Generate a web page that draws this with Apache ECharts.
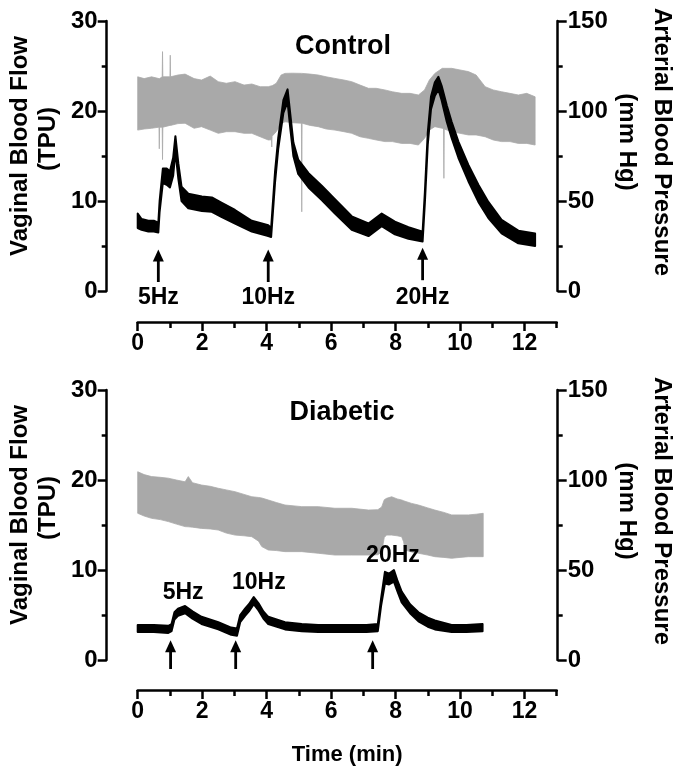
<!DOCTYPE html>
<html><head><meta charset="utf-8">
<script src="https://cdn.jsdelivr.net/npm/echarts@6/dist/echarts.min.js"></script>
<style>html,body{margin:0;padding:0;background:#fff}#c{width:685px;height:777px}</style>
</head><body><div id="c"></div>
<script>
// ---------------- DATA ----------------
const panelTitles = ['Control', 'Diabetic'];
const leftAxisTitle = ['Vaginal Blood Flow', '(TPU)'];
const rightAxisTitle = ['Arterial Blood Pressure', '(mm Hg)'];
const xAxisTitle = 'Time (min)';
const stimLabels = ['5Hz', '10Hz', '20Hz'];

// Control: arterial blood pressure band (mm Hg), upper / lower envelope
const ctrlBpTime = [0.00,0.20,0.43,0.66,0.67,0.68,0.76,0.77,0.78,1.00,1.01,1.02,1.25,1.47,1.75,1.98,2.25,2.50,2.75,3.02,3.30,3.54,3.80,4.05,4.15,4.16,4.17,4.30,4.45,4.57,4.80,5.08,5.09,5.10,5.35,5.60,5.85,6.12,6.40,6.64,6.90,7.16,7.40,7.67,7.90,8.19,8.45,8.71,8.90,9.05,9.22,9.45,9.49,9.50,9.51,9.74,10.00,10.26,10.50,10.78,11.03,11.29,11.55,11.81,12.07,12.33];
const ctrlBpHigh = [119,118,119,118,118,118,119,133,119,119,131,119,120,120.5,118,117.2,119.4,116.3,115.4,116.3,114.4,115,113.5,113.5,114,114,114,115.4,120,120.9,121,120.9,120.9,120.9,120.5,120,119,118.1,117.2,116.3,114.4,112.6,112.6,111.7,110.7,109.8,109.8,108.9,111.7,117.2,120.9,123.7,123.7,123.7,123.7,123.7,122.8,121.9,120,113.5,111.7,110.7,109.8,108.9,109.8,107.9];
const ctrlBpLow  = [89.4,90,90.4,91,79,91,91,73,91,92,92,92,93,93.2,90.4,91.3,89.4,87.6,88.5,88.5,87.6,87.6,85.7,83.9,84,80,86,88.5,93,94,93.5,93.2,44,93.2,92,91.3,90,89.4,88.5,87.6,85.7,84.8,83.9,83,83,82,82,81.1,84.8,89.4,91.3,90.4,90,62.6,90,88.5,87.6,86.7,86.7,85.7,83.9,83,83,82,82,81.1];

// Control: vaginal blood flow trace (TPU), noisy band low / high
const ctrlFlowTime = [0.00,0.12,0.33,0.50,0.64,0.68,0.78,0.90,1.00,1.10,1.17,1.26,1.36,1.57,1.99,2.30,2.61,3.02,3.54,4.05,4.14,4.26,4.36,4.52,4.65,4.73,4.83,4.98,5.30,5.71,6.12,6.64,7.16,7.57,7.98,8.40,8.84,8.91,9.00,9.10,9.22,9.33,9.43,9.59,9.74,9.95,10.26,10.57,10.88,11.29,11.81,12.33];
const ctrlFlowLow  = [7.0,6.8,6.6,6.6,6.5,8.8,12.0,11.8,11.5,12.8,15.5,12.5,10.0,9.2,8.9,8.8,8.2,7.5,6.6,6.1,6.0,12.0,15.8,19.8,21.0,18.2,15.0,13.0,11.5,10.1,8.6,6.8,6.1,7.2,6.3,5.8,5.5,9.8,16.3,20.2,21.7,22.4,21.2,18.8,17.0,14.8,12.2,9.9,8.1,6.4,5.3,5.0];
const ctrlFlowHigh = [8.6,8.0,7.8,7.8,7.6,10.0,13.6,13.6,13.3,14.8,17.2,14.2,11.6,10.8,10.5,10.4,9.8,9.0,7.8,7.3,7.0,13.2,17.0,21.2,22.4,19.8,16.5,14.6,13.1,11.7,10.2,8.3,7.5,8.6,7.7,7.1,6.6,11.0,17.6,21.6,23.2,23.8,22.8,20.6,18.8,16.6,14.0,11.8,9.9,7.9,6.7,6.4];

// Diabetic: arterial blood pressure band (mm Hg)
const diabBpTime = [0.00,0.20,0.43,0.70,0.95,1.20,1.47,1.57,1.70,1.98,2.25,2.50,2.75,3.02,3.30,3.54,3.75,3.85,4.05,4.30,4.57,5.09,5.60,6.12,6.64,7.16,7.45,7.57,7.65,7.72,7.88,8.05,8.19,8.25,8.29,8.50,8.71,9.00,9.22,9.50,9.74,10.00,10.26,10.50,10.72];
const diabBpHigh = [104.6,103,101.9,101.5,101,100,99,101.9,98.5,97.2,96.5,95.4,94.5,93.5,92,90.7,90.3,90,88.9,87.5,86.1,85.2,85.2,84.3,84.3,83.3,83.5,85,89,89.8,90.7,89.5,88.9,88.5,88.2,87,86.1,84.5,83.3,82,80.6,80.6,80.6,81,81.5];
const diabBpLow  = [81.5,80,78.7,78,76.9,75.5,74.1,74,73.8,73.1,72.8,72.2,70.5,69.4,69,68.5,66,63,61.1,60.8,60.2,60.2,59.3,58.3,58.3,58.3,58.5,60,68,69.4,69.4,69,68.5,65.7,61.1,60,59.3,58.3,57.4,57,56.5,57,57.4,57.4,57.4];

// Diabetic: vaginal blood flow trace (TPU)
const diabFlowTime = [0.00,0.50,0.95,1.05,1.14,1.25,1.47,1.70,1.98,2.50,2.90,3.08,3.18,3.33,3.45,3.60,3.75,3.90,4.05,4.57,5.09,5.60,6.10,6.60,7.10,7.45,7.55,7.67,7.80,7.95,8.05,8.19,8.45,8.71,9.00,9.22,9.74,10.20,10.70];
const diabFlowLow  = [3.1,3.1,3.0,3.2,4.5,4.9,5.2,4.6,4.0,3.4,2.8,2.7,4.2,4.9,5.4,6.2,5.5,4.6,4.0,3.4,3.2,3.1,3.1,3.1,3.1,3.2,6.0,8.5,8.4,8.7,7.7,6.4,5.2,4.3,3.7,3.4,3.1,3.1,3.2];
const diabFlowHigh = [3.9,3.9,3.8,4.0,5.3,5.7,6.0,5.4,4.8,4.2,3.6,3.5,5.0,5.7,6.2,7.0,6.3,5.4,4.8,4.2,4.0,3.9,3.9,3.9,3.9,4.0,6.8,9.8,9.6,10.0,8.9,7.6,6.2,5.3,4.7,4.4,3.9,3.9,4.0];

// Stimulus arrows (time, tail value, tip value in TPU) and label anchors
const ctrlStimTime = [0.64, 4.05, 8.84];
const ctrlArrowTail = [1.0, 1.0, 1.2];
const ctrlArrowTip  = [4.6, 4.6, 4.8];
const ctrlLabelTime = [0.64, 4.05, 8.84];
const ctrlLabelValue = [-0.7, -0.7, -0.7];

const diabStimTime = [1.02, 3.04, 7.29];
const diabArrowTail = [-1.0, -1.0, -1.0];
const diabArrowTip  = [2.2, 2.2, 2.2];
const diabLabelTime = [1.41, 3.76, 7.92];
const diabLabelValue = [7.5, 8.6, 11.6];

// ---------------- CHART ----------------
const BLACK = '#000';
const GRAY = '#a9a9a9';
const AF = '"Liberation Sans", Arial, sans-serif';
const axisLineStyle = { color: BLACK, width: 2.5 };

const gridTops = [21, 390];
const grids = gridTops.map(t => ({ left: 137.7, top: t, width: 419, height: 270, outerBoundsMode: 'none', containLabel: false }));

const xAxes = [];
const yAxes = [];
[0, 1].forEach(g => {
  xAxes.push({
    type: 'value', gridIndex: g, min: 0, max: 13, interval: 2, position: 'bottom', offset: g === 0 ? 31 : 30,
    axisLine: { show: true, onZero: false, lineStyle: axisLineStyle },
    axisTick: { show: true, length: 9, lineStyle: axisLineStyle },
    axisLabel: { show: true, margin: 10, color: BLACK, fontFamily: AF, fontWeight: 'bold', fontSize: 23, showMaxLabel: false },
    splitLine: { show: false },
    name: g === 1 ? xAxisTitle : '', nameLocation: 'middle', nameGap: 54, nameMoveOverlap: false,
    nameTextStyle: { color: BLACK, fontFamily: AF, fontWeight: 'bold', fontSize: 22 }
  });
  xAxes.push({
    type: 'value', gridIndex: g, min: 0, max: 13, interval: 1, position: 'bottom', offset: g === 0 ? 31 : 30,
    axisLine: { show: false, onZero: false },
    axisTick: { show: true, length: 6, lineStyle: axisLineStyle },
    axisLabel: { show: false }, splitLine: { show: false }
  });
  yAxes.push({
    type: 'value', gridIndex: g, position: 'left', min: 0, max: 30, interval: 10, offset: 31,
    axisLine: { show: true, onZero: false, lineStyle: axisLineStyle },
    axisTick: { show: true, length: 9, lineStyle: axisLineStyle },
    minorTick: { show: true, splitNumber: 2, length: 5, lineStyle: axisLineStyle },
    axisLabel: { margin: 9, color: BLACK, fontFamily: AF, fontWeight: 'bold', fontSize: 24 },
    splitLine: { show: false }, minorSplitLine: { show: false }
  });
  yAxes.push({
    type: 'value', gridIndex: g, position: 'right', min: 0, max: 150, interval: 50, offset: 1,
    axisLine: { show: true, onZero: false, lineStyle: axisLineStyle },
    axisTick: { show: true, length: 9, lineStyle: axisLineStyle },
    minorTick: { show: true, splitNumber: 2, length: 5, lineStyle: axisLineStyle },
    axisLabel: { margin: 10, color: BLACK, fontFamily: AF, fontWeight: 'bold', fontSize: 24 },
    splitLine: { show: false }, minorSplitLine: { show: false }
  });
});

// Band (filled region between low and high envelopes) drawn as one polygon through the axes' scales
function band(times, low, high, xi, yi, color, lw, z) {
  return {
    type: 'custom', xAxisIndex: xi, yAxisIndex: yi, silent: true, z: z, clip: false,
    data: times.map((t, i) => [t, low[i], high[i]]),
    encode: { x: 0, y: [1, 2] },
    renderItem: function (params, api) {
      if (params.dataIndexInside !== 0) return null;
      const n = params.dataInsideLength;
      const upper = [], lower = [];
      for (let j = 0; j < n; j++) {
        const t = api.value(0, j);
        upper.push(api.coord([t, api.value(2, j)]));
        lower.push(api.coord([t, api.value(1, j)]));
      }
      const pts = upper.concat(lower.reverse());
      return { type: 'polygon', shape: { points: pts },
        style: { fill: color, stroke: color, lineWidth: lw, lineJoin: 'round' } };
    }
  };
}

function arrowItem(params, api) {
  const t = api.value(0);
  const a = api.coord([t, api.value(1)]);
  const b = api.coord([t, api.value(2)]);
  const head = 12, hw = 5.5;
  return { type: 'group', children: [
    { type: 'line', shape: { x1: a[0], y1: a[1], x2: b[0], y2: b[1] + head - 1 }, style: { stroke: BLACK, lineWidth: 2.8 } },
    { type: 'polygon', shape: { points: [[b[0], b[1]], [b[0] - hw, b[1] + head], [b[0] + hw, b[1] + head]] }, style: { fill: BLACK } }
  ] };
}
function arrows(times, tails, tips, xi, yi) {
  return { type: 'custom', xAxisIndex: xi, yAxisIndex: yi, renderItem: arrowItem, silent: true, z: 6, clip: false,
    data: times.map((t, i) => [t, tails[i], tips[i]]), encode: { x: 0, y: [1, 2] } };
}
function labels(times, values, xi, yi) {
  return { type: 'scatter', xAxisIndex: xi, yAxisIndex: yi, symbolSize: 0, silent: true, z: 7, clip: false,
    itemStyle: { opacity: 1 },
    data: times.map((t, i) => ({ value: [t, values[i]], name: stimLabels[i] })),
    label: { show: true, position: 'inside', formatter: '{b}', color: BLACK, opacity: 1, fontFamily: AF, fontWeight: 'bold', fontSize: 23 } };
}

const series = [
  band(ctrlBpTime, ctrlBpLow, ctrlBpHigh, 0, 1, GRAY, 0.8, 2),
  band(ctrlFlowTime, ctrlFlowLow, ctrlFlowHigh, 0, 0, BLACK, 2, 3),
  band(diabBpTime, diabBpLow, diabBpHigh, 2, 3, GRAY, 0.8, 2),
  band(diabFlowTime, diabFlowLow, diabFlowHigh, 2, 2, BLACK, 2, 3),
  arrows(ctrlStimTime, ctrlArrowTail, ctrlArrowTip, 0, 0),
  arrows(diabStimTime, diabArrowTail, diabArrowTip, 2, 2),
  labels(ctrlLabelTime, ctrlLabelValue, 0, 0),
  labels(diabLabelTime, diabLabelValue, 2, 2)
];

function txt(text, x, y, size, rot) {
  return { type: 'text', x: x, y: y, rotation: rot || 0, silent: true, z: 10,
    style: { text: text, align: 'center', verticalAlign: 'middle', fill: BLACK,
      font: 'bold ' + size + 'px ' + AF } };
}
const titleX = [343, 342];
const titleY = [46.7, 413];
const nameMid = [142, 511];
const graphics = [];
[0, 1].forEach(g => {
  graphics.push(txt(panelTitles[g], titleX[g], titleY[g], 27, 0));
  graphics.push(txt(leftAxisTitle[0], 20, nameMid[g] + 4, 24, Math.PI / 2));
  graphics.push(txt(leftAxisTitle[1], 48, nameMid[g] - 3, 24, Math.PI / 2));
  graphics.push(txt(rightAxisTitle[0], 662, nameMid[g], 24, -Math.PI / 2));
  graphics.push(txt(rightAxisTitle[1], 627, nameMid[g], 24, -Math.PI / 2));
});

const chart = echarts.init(document.getElementById('c'), null, { renderer: 'canvas' });
chart.setOption({
  animation: false,
  backgroundColor: '#fff',
  grid: grids,
  xAxis: xAxes,
  yAxis: yAxes,
  series: series,
  graphic: graphics
});
</script></body></html>
